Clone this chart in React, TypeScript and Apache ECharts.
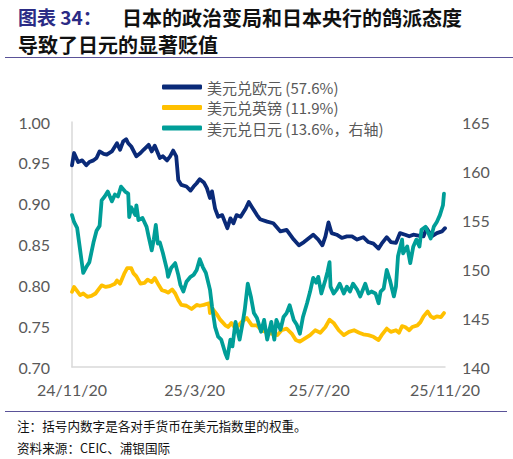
import React, { useEffect, useRef } from "react";
import * as echarts from "echarts";

// Dates are stored as day offsets from 2024-11-20
const START = new Date(2024, 10, 20).getTime();
const DAY = 86400000;

const xTickLabels = ["2024-11-20", "2025-03-20", "2025-07-20", "2025-11-20"];
const seriesNames = ["美元兑欧元 (57.6%)", "美元兑英镑 (11.9%)", "美元兑日元 (13.6%，右轴)"];

const eurDays = [0,2,6,10,14,17,21,24,27,31,34,39,44,47,50,53,55,58,63,67,70,75,78,81,86,89,93,96,99,102,104,107,112,116,119,122,125,129,132,135,137,140,143,147,152,155,158,161,165,170,173,176,181,184,191,197,204,210,217,222,227,232,236,241,245,248,251,254,259,264,269,274,279,285,290,295,300,303,308,312,317,321,326,330,334,339,344,347,352,357,362,365];
const eurValues = [0.947,0.962,0.951,0.953,0.947,0.951,0.953,0.956,0.964,0.961,0.960,0.964,0.974,0.966,0.976,0.979,0.974,0.970,0.958,0.962,0.966,0.972,0.964,0.971,0.956,0.958,0.953,0.958,0.965,0.958,0.929,0.923,0.921,0.916,0.921,0.925,0.930,0.926,0.919,0.907,0.915,0.894,0.884,0.886,0.870,0.882,0.876,0.886,0.884,0.894,0.902,0.896,0.886,0.881,0.878,0.876,0.866,0.868,0.856,0.849,0.853,0.858,0.862,0.856,0.849,0.860,0.877,0.864,0.862,0.858,0.860,0.860,0.856,0.859,0.853,0.851,0.845,0.851,0.859,0.853,0.852,0.864,0.862,0.860,0.862,0.861,0.860,0.870,0.860,0.864,0.866,0.870];

const gbpDays = [0,2,8,11,15,19,23,26,29,33,37,42,44,47,51,54,58,60,63,67,71,74,78,81,85,88,91,94,98,101,104,107,112,117,122,125,129,134,135,137,142,145,150,153,156,160,163,166,171,176,181,184,187,194,201,205,210,215,219,223,228,233,238,243,248,252,256,261,266,271,276,281,285,290,295,300,303,308,312,317,320,323,326,330,333,338,341,344,348,351,354,357,361,364];
const gbpValues = [0.792,0.798,0.788,0.790,0.786,0.787,0.790,0.795,0.800,0.798,0.799,0.802,0.806,0.802,0.814,0.821,0.821,0.815,0.811,0.802,0.803,0.807,0.804,0.809,0.800,0.794,0.793,0.791,0.795,0.790,0.782,0.776,0.775,0.771,0.776,0.775,0.776,0.778,0.766,0.772,0.764,0.758,0.751,0.749,0.754,0.747,0.751,0.755,0.760,0.751,0.751,0.747,0.744,0.741,0.739,0.745,0.747,0.741,0.733,0.731,0.735,0.739,0.745,0.742,0.749,0.758,0.754,0.745,0.739,0.743,0.745,0.742,0.740,0.739,0.737,0.733,0.739,0.747,0.743,0.745,0.742,0.750,0.749,0.745,0.749,0.751,0.755,0.762,0.768,0.762,0.760,0.762,0.761,0.766];

const jpyDays = [0,2,5,8,11,14,17,21,24,27,29,32,35,39,42,45,48,52,55,56,58,62,63,65,69,73,75,78,80,82,84,86,89,93,94,97,101,104,106,109,112,116,119,122,125,128,131,135,137,140,143,146,150,152,155,157,160,164,167,169,172,175,178,181,185,188,191,195,198,200,204,207,210,213,217,220,223,226,230,233,236,239,241,244,248,250,252,253,256,259,262,266,269,272,275,279,282,287,290,293,297,300,302,305,308,311,315,317,319,323,324,328,331,334,337,340,342,346,349,351,354,357,360,363,364];
const jpyValues = [155.5,154.8,154.2,151.9,149.6,150.2,150.7,152.7,153.9,154.4,157.0,157.4,157.9,156.9,157.6,157.4,158.4,157.9,157.7,155.3,156.3,155.5,156.5,155.0,155.2,154.3,153.3,151.9,153.0,154.5,152.6,152.7,151.6,149.9,149.2,150.1,150.6,149.4,148.4,147.7,148.7,149.2,149.4,149.9,151.0,150.2,149.6,147.9,146.2,144.1,143.1,142.8,141.4,140.9,142.8,142.1,144.6,142.8,144.5,145.8,148.5,147.2,145.5,145.0,143.6,144.8,142.8,144.6,142.8,144.8,143.8,145.1,145.5,146.3,144.8,144.3,143.4,145.1,146.5,147.7,149.1,148.6,149.2,147.5,148.9,149.7,150.7,148.2,147.5,147.9,148.5,147.5,148.2,147.7,148.5,147.9,147.2,148.5,147.5,147.7,147.5,146.5,147.7,148.0,149.9,148.9,147.2,148.2,151.3,153.0,151.6,152.3,150.6,152.3,153.0,152.3,154.0,154.3,153.6,153.1,154.3,154.8,155.5,156.5,157.7];

const colors = ["#0A2A78", "#FFC000", "#009E98"];

function toTs(s: string) {
  const [y, m, d] = s.split("-").map(Number);
  return new Date(y, m - 1, d).getTime();
}
function zip(days: number[], vals: number[]) {
  return days.map((d, i) => [START + d * DAY, vals[i]]);
}
function fmtDate(v: number) {
  const dt = new Date(v);
  return `${String(dt.getFullYear()).slice(2)}/${dt.getMonth() + 1}/${dt.getDate()}`;
}

export default function App() {
  const ref = useRef<HTMLDivElement>(null);
  useEffect(() => {
    if (!ref.current) return;
    const chart = echarts.init(ref.current, undefined, { renderer: "svg" });
    const labelFont = "Lato, 'Liberation Sans', sans-serif";
    const cjk = "'Noto Sans CJK SC', sans-serif";
    const tickTs = xTickLabels.map(toTs);
    chart.setOption({
      animation: false,
      backgroundColor: "#ffffff",
      grid: { left: 72, right: 68, top: 122, bottom: 92, containLabel: false },
      legend: {
        orient: "vertical",
        left: 162,
        top: 78,
        padding: 0,
        itemWidth: 40,
        itemHeight: 5,
        itemGap: 2.5,
        icon: "roundRect",
        data: seriesNames,
        textStyle: { color: "#595959", fontSize: 15, lineHeight: 18, fontFamily: cjk },
      },
      xAxis: {
        type: "value",
        min: tickTs[0],
        max: tickTs[tickTs.length - 1],
        axisLine: { show: true, lineStyle: { color: "#D9D9D9", width: 1.5 } },
        axisTick: { show: false },
        splitLine: { show: false },
        axisLabel: {
          customValues: tickTs,
          formatter: (v: number) => fmtDate(v),
          color: "#595959",
          fontSize: 16,
          fontFamily: labelFont,
          margin: 14,
          showMinLabel: true,
          showMaxLabel: true,
          hideOverlap: false,
        },
      },
      yAxis: [
        {
          type: "value",
          min: 0.7,
          max: 1.0,
          interval: 0.05,
          axisLine: { show: true, lineStyle: { color: "#D9D9D9", width: 1.5 } },
          axisTick: { show: false },
          splitLine: { show: false },
          axisLabel: {
            formatter: (v: number) => v.toFixed(2),
            color: "#595959",
            fontSize: 16,
            fontFamily: labelFont,
            margin: 22,
          },
        },
        {
          type: "value",
          min: 140,
          max: 165,
          interval: 5,
          position: "right",
          axisLine: { show: false },
          axisTick: { show: false },
          splitLine: { show: false },
          axisLabel: {
            color: "#595959",
            fontSize: 16,
            fontFamily: labelFont,
            margin: 17,
          },
        },
      ],
      series: [
        {
          name: seriesNames[0],
          type: "line",
          yAxisIndex: 0,
          showSymbol: false,
          data: zip(eurDays, eurValues),
          lineStyle: { color: colors[0], width: 3.8, cap: "round", join: "round" },
          itemStyle: { color: colors[0] },
        },
        {
          name: seriesNames[1],
          type: "line",
          yAxisIndex: 0,
          showSymbol: false,
          data: zip(gbpDays, gbpValues),
          lineStyle: { color: colors[1], width: 3.8, cap: "round", join: "round" },
          itemStyle: { color: colors[1] },
        },
        {
          name: seriesNames[2],
          type: "line",
          yAxisIndex: 1,
          showSymbol: false,
          data: zip(jpyDays, jpyValues),
          lineStyle: { color: colors[2], width: 3.8, cap: "round", join: "round" },
          itemStyle: { color: colors[2] },
        },
      ],
      graphic: [
        {
          type: "text",
          left: 18,
          top: 7,
          style: { text: "图表 34：", fill: "#2B2B85", font: `bold 19px ${cjk}` },
        },
        {
          type: "text",
          left: 122,
          top: 7,
          style: { text: "日本的政治变局和日本央行的鸽派态度", fill: "#111111", font: `bold 20px ${cjk}` },
        },
        {
          type: "text",
          left: 18,
          top: 34,
          style: { text: "导致了日元的显著贬值", fill: "#111111", font: `bold 20px ${cjk}` },
        },
        {
          type: "line",
          shape: { x1: 5, y1: 57.5, x2: 513, y2: 57.5 },
          style: { stroke: "#5A5298", lineWidth: 1 },
        },
        {
          type: "line",
          shape: { x1: 5, y1: 411.5, x2: 507, y2: 411.5 },
          style: { stroke: "#5A5298", lineWidth: 1 },
        },
        {
          type: "text",
          left: 17,
          top: 419,
          style: { text: "注：括号内数字是各对手货币在美元指数里的权重。", fill: "#111111", font: `12.6px ${cjk}` },
        },
        {
          type: "text",
          left: 17,
          top: 441,
          style: { text: "资料来源：CEIC、浦银国际", fill: "#111111", font: `12.6px ${cjk}` },
        },
      ],
    });
    return () => chart.dispose();
  }, []);
  return (
    <div
      ref={ref}
      style={{ position: "fixed", left: 0, top: 0, width: 513, height: 459 }}
    />
  );
}
